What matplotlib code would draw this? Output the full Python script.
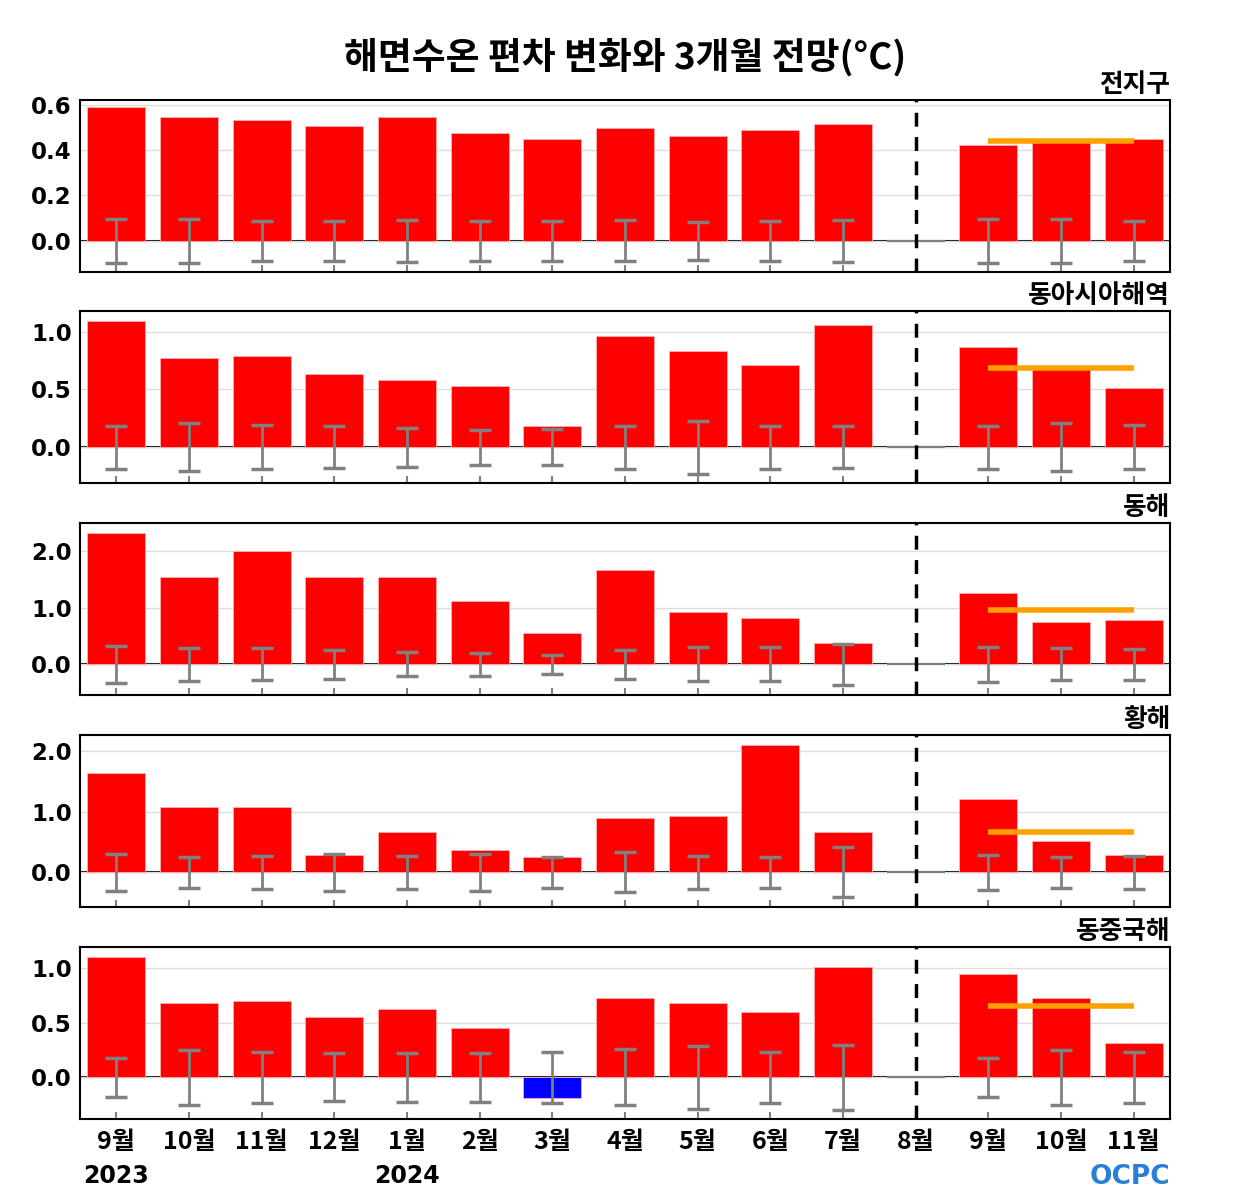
import matplotlib
matplotlib.use("Agg")
import matplotlib.pyplot as plt
import numpy as np

plt.rcParams['font.family'] = ['Noto Sans CJK KR', 'DejaVu Sans']

months = ["9월", "10월", "11월", "12월", "1월", "2월", "3월", "4월",
          "5월", "6월", "7월", "8월", "9월", "10월", "11월"]
years = {0: "2023", 4: "2024"}

regions = ["전지구", "동아시아해역", "동해", "황해", "동중국해"]

# observed (0..10), 8월 = none (11), forecast (12..14)
anom = [
    [0.587, 0.547, 0.534, 0.507, 0.547, 0.476, 0.450, 0.498, 0.463, 0.490, 0.516, 0.0, 0.423, 0.440, 0.450],
    [1.095, 0.776, 0.793, 0.638, 0.586, 0.526, 0.181, 0.966, 0.836, 0.716, 1.060, 0.0, 0.871, 0.680, 0.509],
    [2.32, 1.54, 2.00, 1.53, 1.54, 1.12, 0.56, 1.67, 0.93, 0.81, 0.37, 0.0, 1.25, 0.75, 0.79],
    [1.64, 1.08, 1.08, 0.28, 0.67, 0.36, 0.25, 0.89, 0.93, 2.10, 0.67, 0.0, 1.20, 0.51, 0.28],
    [1.10, 0.68, 0.70, 0.555, 0.62, 0.455, -0.19, 0.72, 0.68, 0.60, 1.01, 0.0, 0.945, 0.72, 0.31],
]
spread = [
    [0.097, 0.097, 0.088, 0.088, 0.092, 0.088, 0.088, 0.090, 0.083, 0.088, 0.092, 0.0, 0.097, 0.097, 0.088],
    [0.185, 0.21, 0.19, 0.18, 0.17, 0.15, 0.155, 0.185, 0.23, 0.185, 0.18, 0.0, 0.185, 0.21, 0.19],
    [0.32, 0.29, 0.28, 0.25, 0.21, 0.20, 0.17, 0.26, 0.30, 0.30, 0.36, 0.0, 0.31, 0.28, 0.27],
    [0.30, 0.25, 0.27, 0.31, 0.27, 0.30, 0.26, 0.33, 0.27, 0.26, 0.41, 0.0, 0.29, 0.25, 0.27],
    [0.18, 0.25, 0.235, 0.22, 0.225, 0.225, 0.235, 0.255, 0.29, 0.235, 0.30, 0.0, 0.18, 0.25, 0.235],
]
outlook = [0.441, 0.69, 0.96, 0.67, 0.655]

ylims = [(-0.137, 0.62), (-0.31, 1.18), (-0.54, 2.49), (-0.57, 2.26), (-0.38, 1.19)]
yticks = [[0.0, 0.2, 0.4, 0.6], [0.0, 0.5, 1.0], [0.0, 1.0, 2.0], [0.0, 1.0, 2.0], [0.0, 0.5, 1.0]]

fig = plt.figure(figsize=(12.5, 12), dpi=100)
fig.text(0.5, 1 - 57 / 1200, "해면수온 편차 변화와 3개월 전망(°C)", ha="center", va="center",
         fontsize=26.5, fontweight="black")

x = np.arange(len(months))
tops = [100, 311, 523, 735, 947]
for i in range(5):
    ax = fig.add_axes([80 / 1250, 1 - (tops[i] + 172) / 1200, 1090 / 1250, 172 / 1200])
    vals = np.array(anom[i])
    err = np.array(spread[i])
    ax.set_ylim(*ylims[i])
    ax.set_xlim(-0.5, 14.5)
    ax.set_yticks(yticks[i])
    ax.set_yticklabels([f"{t:.1f}" for t in yticks[i]], fontsize=16.5, fontweight="bold",
                       family="DejaVu Sans")
    ax.yaxis.grid(True, color="#dddddd", lw=1, zorder=0)
    ax.axhline(0, color="black", lw=1.5, zorder=1)

    mask = np.arange(len(vals)) != 11
    colors = ["red" if v >= 0 else "blue" for v in vals]
    ax.bar(x[mask], vals[mask], width=0.8, color=np.array(colors)[mask],
           edgecolor="#ffb0b0", lw=0.6, zorder=2)
    ax.hlines(0, 10.6, 11.4, color="gray", lw=1.5, zorder=2)
    ax.errorbar(x[mask], np.zeros(mask.sum()), yerr=err[mask], fmt="none",
                ecolor="gray", elinewidth=2, capsize=8, capthick=2.5, zorder=3)
    ax.hlines(outlook[i], 12, 14, color="#ffa000", lw=4, zorder=4)
    ax.axvline(11, color="black", lw=2.5, ls=(0, (4, 3)), zorder=5)

    for s in ax.spines.values():
        s.set_color("black")
        s.set_linewidth(1.5)
    ax.tick_params(axis="y", length=0, pad=6)
    ax.tick_params(axis="x", direction="in", length=5, color="gray", width=1.5)
    ax.set_xticks(x)
    if i == 4:
        ax.set_xticklabels(months, fontsize=18, fontweight="black")
        ax.tick_params(axis="x", pad=8)
        for k, yr in years.items():
            ax.text(k, -0.33, yr, transform=ax.get_xaxis_transform(), ha="center", va="center",
                    fontsize=17, fontweight="bold", family="DejaVu Sans")
    else:
        ax.set_xticklabels([])
    ax.text(1.0, 1.01, regions[i], transform=ax.transAxes, ha="right", va="bottom",
            fontsize=18.5, fontweight="black")

fig.text(1170 / 1250, 1 - 1177 / 1200, "OCPC", ha="right", va="center", fontsize=19,
         fontweight="bold", color="#2a7fd4", family="DejaVu Sans")

fig.savefig("out.png", dpi=100)
